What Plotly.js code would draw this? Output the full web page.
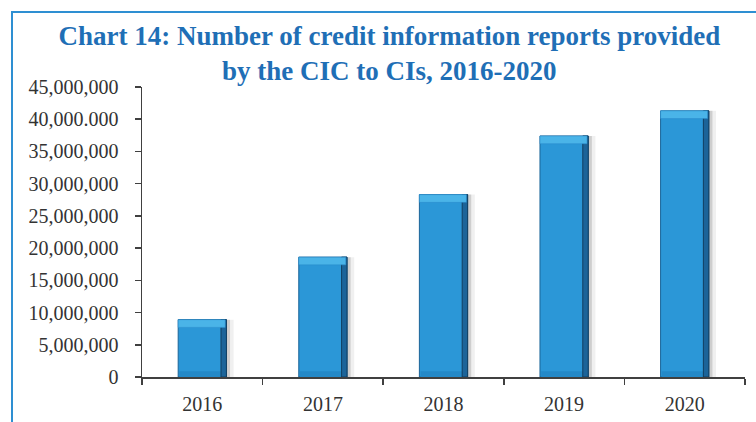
<!DOCTYPE html>
<html>
<head>
<meta charset="utf-8">
<script src="https://cdn.plot.ly/plotly-3.0.1.min.js"></script>
<style>
  html, body { margin: 0; padding: 0; background: #ffffff; }
  #wrap { position: relative; width: 756px; height: 422px; overflow: hidden; }
  #chart { position: absolute; left: 0; top: 0; width: 756px; height: 422px; }
  #frame { position: absolute; left: 11px; top: 11px; width: 760px; height: 420px;
           border-left: 2px solid #2E8FD2; border-top: 2px solid #2E8FD2;
           pointer-events: none; z-index: 5; box-sizing: border-box; }
</style>
</head>
<body>
<div id="wrap">
  <div id="chart"></div>
  <div id="frame"></div>
</div>
<script>
// ---- data ----
const years = ['2016', '2017', '2018', '2019', '2020'];
const reports = [8900000, 18600000, 28300000, 37400000, 41300000];
const yTickVals = [0, 5000000, 10000000, 15000000, 20000000, 25000000, 30000000, 35000000, 40000000, 45000000];
const yTickText = ['0', '5,000,000', '10,000,000', '15,000,000', '20,000,000', '25,000,000', '30,000,000', '35,000,000', '40,000.000', '45,000,000'];
const titleText = 'Chart 14: Number of credit information reports provided<br>by the CIC to CIs, 2016-2020';

// ---- styling helpers (derived from data) ----
const barW = 0.4;
const bevel = 1200000;
const bevelTopBase = reports.map(v => v - bevel);
const bevelHeights = reports.map(() => bevel);
const bottomBand = reports.map(() => 900000);

const traces = [
  { // soft outer shadow
    type: 'bar', x: years, y: reports, width: barW, offset: -barW / 2 + 0.06,
    marker: { color: 'rgba(0,0,0,0.06)' }, hoverinfo: 'skip', showlegend: false
  },
  { // inner shadow
    type: 'bar', x: years, y: reports, width: barW, offset: -barW / 2 + 0.03,
    marker: { color: 'rgba(0,0,0,0.14)' }, hoverinfo: 'skip', showlegend: false
  },
  { // main bars
    type: 'bar', x: years, y: reports, width: barW, offset: -barW / 2,
    name: 'Credit information reports',
    marker: { color: '#2B97D7', line: { color: '#1A6498', width: 1 } },
    showlegend: false
  },
  { // bottom band
    type: 'bar', x: years, y: bottomBand, base: 0, width: barW - 0.02, offset: -barW / 2 + 0.01,
    marker: { color: '#2489C8' }, hoverinfo: 'skip', showlegend: false
  },
  { // right dark bevel
    type: 'bar', x: years, y: reports, width: 0.045, offset: barW / 2 - 0.045,
    marker: { color: '#1C6499', line: { color: '#123F60', width: 1 } }, hoverinfo: 'skip', showlegend: false
  },
  { // top light bevel
    type: 'bar', x: years, y: bevelHeights, base: bevelTopBase, width: barW - 0.01, offset: -barW / 2,
    marker: { color: '#4AB4E8', line: { color: '#2A8ACB', width: 0.5 } }, hoverinfo: 'skip', showlegend: false
  }
];

const tickFont = { family: '"Liberation Serif", "Times New Roman", serif', size: 20, color: '#333333' };

const layout = {
  width: 756, height: 422,
  paper_bgcolor: '#ffffff', plot_bgcolor: '#ffffff',
  margin: { l: 142, r: 11, t: 87, b: 45, pad: 0 },
  barmode: 'overlay',
  showlegend: false,
  title: {
    text: titleText,
    font: { family: '"Liberation Serif", "Times New Roman", serif', size: 27, color: '#1F6FB6', weight: 'bold' },
    xref: 'container', x: 0.515, xanchor: 'center',
    yref: 'container', y: 1 - 45 / 422, yanchor: 'top'
  },
  xaxis: {
    type: 'category', range: [-0.5, 4.5],
    showline: true, linecolor: '#404040', linewidth: 1.5,
    ticks: 'outside', tickson: 'boundaries', ticklen: 6, tickwidth: 1.5, tickcolor: '#404040',
    tickfont: tickFont, ticklabelstandoff: 8,
    showgrid: false, zeroline: false, fixedrange: true
  },
  yaxis: {
    range: [0, 45000000],
    tickmode: 'array', tickvals: yTickVals, ticktext: yTickText,
    showline: true, linecolor: '#404040', linewidth: 1.5,
    ticks: 'outside', ticklen: 6, tickwidth: 1.5, tickcolor: '#404040',
    tickfont: tickFont, ticklabelstandoff: 12,
    showgrid: false, zeroline: false, fixedrange: true
  }
};

Plotly.newPlot('chart', traces, layout, { displayModeBar: false, staticPlot: true });
</script>
</body>
</html>
